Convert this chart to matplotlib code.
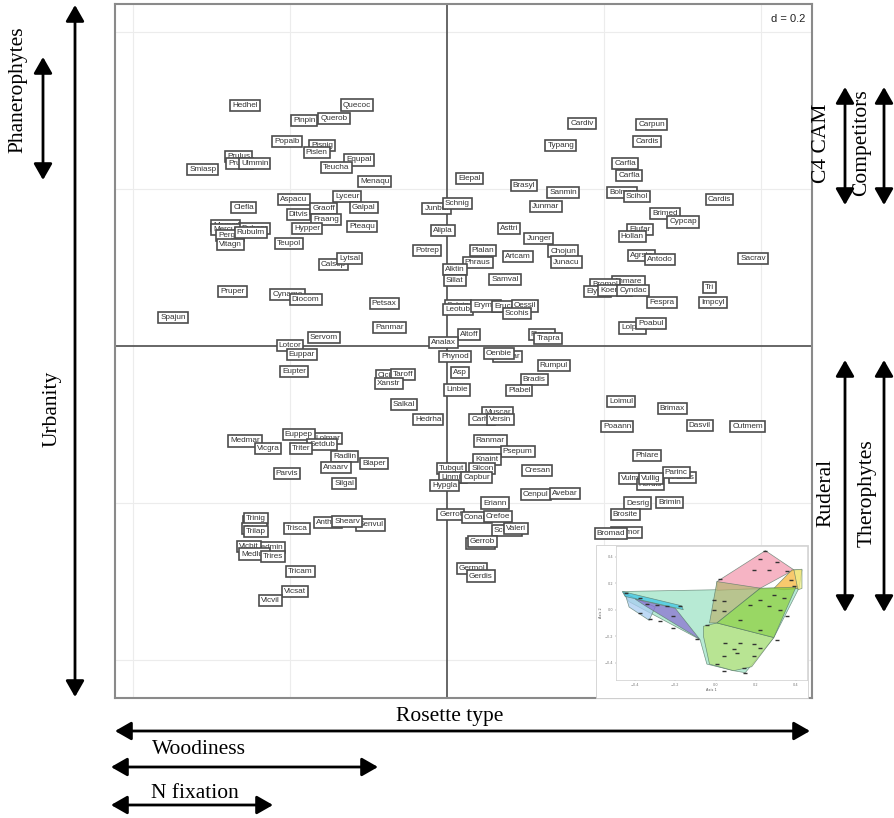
import matplotlib
matplotlib.use('Agg')
import matplotlib.pyplot as plt
from matplotlib.patches import FancyArrowPatch, Polygon, Rectangle

W, H = 894, 818

# species codes and their scores on the first two axes
species = ["Hedhel", "Pinpin", "Querob", "Quecoc", "Popalb", "Pisnig", "Pislen", "Equpal", "Teucha", "Menaqu",
           "Smiasp", "Prulus", "Pruavi", "Ulmmin", "Clefla", "Aspacu", "Lyceur", "Ditvis", "Graoff", "Galpal",
           "Fraang", "Hypper", "Pteaqu", "Merper", "Dubcar", "Mercur", "Pergra", "Rubulm", "Vitagn", "Teupol",
           "Calsep", "Lytsal", "Pruper", "Cynamo", "Diocom", "Petsax", "Spajun", "Panmar", "Servom", "Lotcor",
           "Euppar", "Eupter",
           "Elepal", "Junbuf", "Schnig", "Alipla", "Potrep", "Plalan", "Phraus", "Alktin", "Sillat", "Samval",
           "Solnig", "Leotub", "Erymar", "Erucas", "Oessil", "Scohis", "Altoff", "Picrec", "Trapra", "Analax",
           "Phynod", "Melbar", "Oenbie", "Asp", "Linbie", "Brasyl", "Sanmin", "Junmar", "Asttri", "Junger",
           "Artcam", "Chojun", "Junacu", "Rumpul", "Bradis", "Plabel", "Muscar", "Carhir", "Versin", "Ranmar",
           "Psepum", "Knaint", "Silcon", "Tubgut", "Linmin", "Capbur", "Hypgla", "Cresan", "Cenpul", "Avebar",
           "Eriann", "Gerrot", "Conarv", "Crefoe", "Scoaut", "Valeri", "Gergra", "Gerrob", "Germol", "Gerdis",
           "Salkal", "Hedrha", "Cicint", "Taroff", "Xanstr",
           "Medmar", "Vicgra", "Lolmar", "Euppep", "Setdub", "Triter", "Radlin", "Blaper", "Anaarv", "Parvis",
           "Silgal", "Trifra", "Trinig", "Triarv", "Trilap", "Trisca", "Anthar", "Senvul", "Shearv", "Medmin",
           "Vicbit", "Medlup", "Trires", "Tricam", "Vicsat", "Vicvil",
           "Cardiv", "Carpun", "Cardis", "Typang", "Carfla", "Carfla", "Bolmar", "Scihol", "Cardis", "Brimed",
           "Cypcap", "Elufar", "Hollan", "Agrsto", "Antodo", "Sacrav", "Anmare", "Bromol", "Elyrep", "Koemac",
           "Cyndac", "Tri", "Impcyl", "Fespra", "Lolper", "Poabul",
           "Loimul", "Brimax", "Poaann", "Dasvil", "Cutmem", "Phlare", "Parhis", "Parinc", "Vulmyu", "Hordis",
           "Vullig", "Desrig", "Brimin", "Brosite", "Bromor", "Bromad"]

axis1 = [-0.257, -0.182, -0.144, -0.115, -0.204, -0.159, -0.166, -0.112, -0.141, -0.092,
         -0.311, -0.265, -0.264, -0.245, -0.259, -0.195, -0.127, -0.189, -0.157, -0.106,
         -0.154, -0.178, -0.108, -0.282, -0.245, -0.282, -0.276, -0.250, -0.276, -0.201,
         -0.145, -0.124, -0.273, -0.203, -0.180, -0.080, -0.349, -0.073, -0.157, -0.200,
         -0.185, -0.195,
         0.029, -0.013, 0.013, -0.005, -0.025, 0.046, 0.039, 0.010, 0.010, 0.074,
         0.014, 0.014, 0.050, 0.076, 0.099, 0.089, 0.028, 0.121, 0.129, -0.004,
         0.010, 0.077, 0.066, 0.017, 0.013, 0.098, 0.148, 0.126, 0.079, 0.117,
         0.090, 0.148, 0.152, 0.136, 0.111, 0.092, 0.064, 0.045, 0.068, 0.055,
         0.090, 0.051, 0.045, 0.006, 0.008, 0.038, -0.003, 0.115, 0.113, 0.150,
         0.061, 0.005, 0.038, 0.065, 0.076, 0.088, 0.043, 0.045, 0.032, 0.043,
         -0.055, -0.024, -0.075, -0.056, -0.074,
         -0.257, -0.228, -0.152, -0.189, -0.159, -0.186, -0.130, -0.093, -0.141, -0.204,
         -0.131, -0.245, -0.243, -0.245, -0.243, -0.191, -0.152, -0.097, -0.127, -0.227,
         -0.252, -0.245, -0.222, -0.187, -0.194, -0.225,
         0.172, 0.261, 0.255, 0.145, 0.227, 0.232, 0.223, 0.242, 0.347, 0.278,
         0.301, 0.246, 0.236, 0.248, 0.271, 0.390, 0.231, 0.201, 0.192, 0.214,
         0.237, 0.334, 0.339, 0.274, 0.236, 0.260,
         0.222, 0.287, 0.217, 0.322, 0.383, 0.255, 0.300, 0.292, 0.239, 0.259,
         0.260, 0.243, 0.284, 0.227, 0.229, 0.209]

axis2 = [0.306, 0.287, 0.290, 0.307, 0.261, 0.255, 0.247, 0.237, 0.227, 0.210,
         0.225, 0.241, 0.232, 0.232, 0.177, 0.187, 0.191, 0.167, 0.175, 0.176,
         0.161, 0.150, 0.152, 0.153, 0.150, 0.149, 0.141, 0.145, 0.129, 0.131,
         0.104, 0.112, 0.069, 0.066, 0.059, 0.054, 0.036, 0.024, 0.011, 0.001,
         -0.011, -0.032,
         0.213, 0.175, 0.181, 0.147, 0.122, 0.122, 0.106, 0.097, 0.083, 0.085,
         0.052, 0.046, 0.051, 0.050, 0.051, 0.041, 0.015, 0.015, 0.009, 0.004,
         -0.013, -0.013, -0.010, -0.034, -0.056, 0.204, 0.196, 0.178, 0.150, 0.137,
         0.114, 0.121, 0.107, -0.025, -0.043, -0.057, -0.085, -0.094, -0.094, -0.121,
         -0.134, -0.144, -0.156, -0.156, -0.167, -0.167, -0.178, -0.159, -0.189, -0.188,
         -0.200, -0.215, -0.218, -0.217, -0.235, -0.232, -0.252, -0.249, -0.283, -0.293,
         -0.075, -0.094, -0.038, -0.036, -0.048,
         -0.121, -0.131, -0.118, -0.113, -0.126, -0.131, -0.141, -0.150, -0.155, -0.162,
         -0.175, -0.224, -0.220, -0.232, -0.236, -0.233, -0.225, -0.228, -0.223, -0.257,
         -0.255, -0.265, -0.268, -0.287, -0.313, -0.324,
         0.284, 0.282, 0.260, 0.255, 0.232, 0.217, 0.195, 0.190, 0.187, 0.169,
         0.158, 0.149, 0.140, 0.115, 0.110, 0.112, 0.082, 0.078, 0.070, 0.071,
         0.071, 0.074, 0.056, 0.055, 0.023, 0.029,
         -0.071, -0.080, -0.103, -0.101, -0.102, -0.140, -0.167, -0.161, -0.169, -0.176,
         -0.169, -0.200, -0.199, -0.215, -0.238, -0.239]

# convex hulls of the functional groups (small overview panel)
hull_pink = [(0.007, 0.212), (0.248, 0.445), (0.39, 0.30), (0.223, 0.162), (0.007, 0.145)]
hull_orange = [(0.29, 0.16), (0.38, 0.30), (0.43, 0.30), (0.415, 0.16), (0.34, 0.15)]
hull_yellow = [(0.39, 0.30), (0.43, 0.305), (0.43, 0.16), (0.41, 0.15)]
hull_mint = [(-0.463, 0.137), (0.415, 0.162), (0.29, -0.21), (0.148, -0.475),
             (0.09, -0.46), (-0.043, -0.41), (-0.077, -0.225), (-0.43, 0.06)]
hull_lightgreen = [(-0.06, -0.125), (0.007, -0.10), (0.29, -0.21), (0.18, -0.43),
                   (0.09, -0.46), (-0.03, -0.41), (-0.06, -0.2)]
hull_lime = [(0.007, -0.10), (0.223, 0.162), (0.40, 0.17), (0.29, -0.21)]
hull_olive = [(-0.03, -0.10), (0.007, 0.212), (0.223, 0.162), (0.007, -0.10)]
hull_cyan = [(-0.463, 0.137), (-0.17, 0.03), (-0.16, 0.0), (-0.45, 0.10)]
hull_purple = [(-0.40, 0.08), (-0.20, 0.01), (-0.08, -0.22), (-0.35, 0.03)]
hull_lightblue = [(-0.45, 0.12), (-0.30, 0.02), (-0.33, -0.08), (-0.43, 0.02)]
hull_fills = [(hull_mint, '#9fe3c6'), (hull_lightgreen, '#b9e37e'), (hull_pink, '#f49bb0'),
              (hull_orange, '#f6b83c'), (hull_yellow, '#f1f08a'), (hull_olive, '#b9b878'),
              (hull_lime, '#8fd13f'), (hull_lightblue, '#a9cdf2'), (hull_cyan, '#3fc6e6'),
              (hull_purple, '#8c73d2')]

inset_x = [0.248, 0.223, 0.307, 0.265, 0.190, 0.023, 0.357, 0.373, 0.390, 0.290, 0.340, 0.223, 0.173,
           0.040, -0.010, -0.010, 0.040, 0.265, 0.323, 0.357, 0.123, 0.223, 0.048, 0.123, 0.090,
           0.107, 0.190, 0.223, 0.307, 0.040, 0.190, 0.007, 0.140, 0.148, 0.040, -0.443, -0.377,
           -0.343, -0.293, -0.243, -0.177, -0.377, -0.327, -0.277, -0.210, -0.093, -0.043, -0.210]
inset_y = [0.445, 0.380, 0.362, 0.300, 0.300, 0.230, 0.288, 0.225, 0.175, 0.112, 0.088, 0.075,
           0.038, 0.062, 0.075, 0.000, -0.012, 0.030, 0.000, -0.050, -0.075, -0.150, -0.250,
           -0.250, -0.300, -0.325, -0.262, -0.288, -0.225, -0.350, -0.350, -0.412, -0.438,
           -0.475, -0.462, 0.125, 0.088, 0.045, 0.038, 0.025, 0.025, -0.025, -0.070, -0.088,
           -0.138, -0.220, -0.112, -0.050]


def fx(x):
    return x / W


def fy(y):
    return 1 - y / H


fig = plt.figure(figsize=(W / 100, H / 100), dpi=100)
ax = fig.add_axes([fx(115), fy(698), 697 / W, 694 / H])
ax.set_xlim(-0.4229, 0.4650)
ax.set_ylim(-0.4484, 0.4357)
ax.set_xticks([])
ax.set_yticks([])
for g in [-0.4, -0.2, 0.2, 0.4]:
    ax.axvline(g, color='#ececec', lw=0.8, zorder=0)
    ax.axhline(g, color='#ececec', lw=0.8, zorder=0)
ax.axvline(0, color='#5a5a5a', lw=1.3, zorder=1)
ax.axhline(0, color='#5a5a5a', lw=1.3, zorder=1)
for s in ax.spines.values():
    s.set_color('#8a8a8a')
    s.set_linewidth(1.5)

for i, (name, x, y) in enumerate(zip(species, axis1, axis2)):
    ax.text(x, y, name, fontsize=5.9, family='Liberation Sans', color='#333333',
            ha='center', va='center', zorder=2 + i * 0.01,
            bbox=dict(boxstyle='square,pad=0.25', fc='white', ec='#4d4d4d', lw=1.2))

ax.text(0.99, 0.985, 'd = 0.2', transform=ax.transAxes, ha='right', va='top',
        fontsize=8, family='Liberation Sans', color='#222222')

# overview panel with group hulls
fig.add_artist(Rectangle((fx(596), fy(698)), 212 / W, 153 / H, transform=fig.transFigure,
                         fc='white', ec='#d0d0d0', lw=0.6, zorder=5))
ins = fig.add_axes([fx(616), fy(680), 191 / W, 134 / H], zorder=6)
ins.set_xlim(-0.495, 0.455)
ins.set_ylim(-0.53, 0.48)
for pts, col in hull_fills:
    ins.add_patch(Polygon(pts, closed=True, fc=col, ec='#557766', lw=0.5, alpha=0.75))
ins.plot(inset_x, inset_y, ls='none', marker='_', ms=3, mew=1.0, color='#333333')
ins.set_xticks([-0.4, -0.2, 0.0, 0.2, 0.4])
ins.set_yticks([-0.4, -0.2, 0.0, 0.2, 0.4])
ins.tick_params(labelsize=2.5, length=1, width=0.3, colors='#777777', pad=1)
ins.set_xlabel('Axis 1', fontsize=2.5, labelpad=1, color='#555555')
ins.set_ylabel('Axis 2', fontsize=2.5, labelpad=1, color='#555555')
for s in ins.spines.values():
    s.set_color('#cccccc')
    s.set_linewidth(0.5)

# trait gradients drawn outside the plot
serif = 'Liberation Serif'
arrows = [((75, 5), (75, 697)), ((43, 57), (43, 180)),
          ((845, 87), (845, 205)), ((884, 87), (884, 205)),
          ((845, 360), (845, 612)), ((884, 360), (884, 612)),
          ((115, 731), (810, 731)), ((111, 767), (378, 767)), ((111, 805), (273, 805))]
for (x0, y0), (x1, y1) in arrows:
    fig.add_artist(FancyArrowPatch((fx(x0), fy(y0)), (fx(x1), fy(y1)), transform=fig.transFigure,
                                   arrowstyle='<|-|>,head_length=0.7,head_width=0.4',
                                   mutation_scale=14, lw=2.0, color='black',
                                   shrinkA=0, shrinkB=0))

labels = [('Urbanity', 52, 409, 90), ('Phanerophytes', 18, 90, 90),
          ('C4 CAM', 822, 143, 90), ('Competitors', 862, 143, 90),
          ('Ruderal', 826, 493, 90), ('Therophytes', 867, 493, 90),
          ('Rosette type', 450, 716, 0), ('Woodiness', 199, 750, 0), ('N fixation', 195, 793, 0)]
for txt, x, y, rot in labels:
    fig.text(fx(x), fy(y), txt, rotation=rot, ha='center', va='center',
             fontsize=15.5, family=serif)

fig.savefig('out.png', dpi=100)
